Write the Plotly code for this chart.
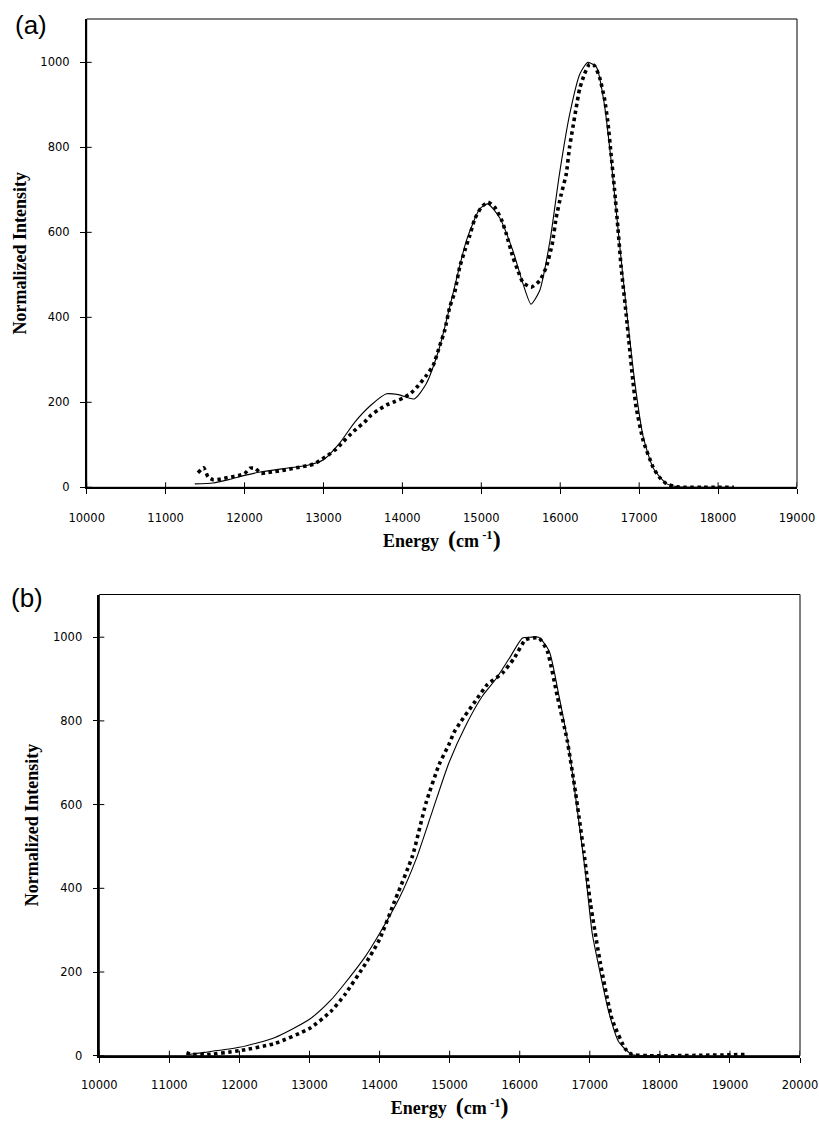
import plotly.graph_objects as go

# ---------------- Panel (a) data ----------------
a_calc_x = [11370, 11600, 11800, 12000, 12200, 12500, 12800, 13000, 13200, 13400,
            13600, 13800, 13950, 14150, 14300, 14470, 14640, 14810, 14980, 15080,
            15230, 15400, 15530, 15630, 15740, 15870, 15990, 16120, 16250, 16350,
            16460, 16560, 16650, 16750, 16850, 16950, 17050, 17180, 17350, 17500,
            17700, 18200]
a_calc_y = [8, 10, 18, 28, 36, 44, 52, 65, 103, 154,
            193, 220, 218, 208, 243, 329, 455, 580, 655, 667,
            635, 557, 478, 431, 463, 580, 737, 878, 973, 1000,
            988, 900, 760, 575, 400, 240, 120, 45, 8, 1,
            0, 0]

a_exp_x = [11410, 11483, 11538, 11600, 11680, 11760, 11850, 11930, 12000, 12070,
           12130, 12210, 12300, 12380, 12460, 12550, 12630, 12720, 12800, 12886,
           12970, 13054, 13160, 13245, 13329, 13414, 13519, 13603, 13696, 13801,
           13907, 14013, 14110, 14200, 14304, 14389, 14473, 14536, 14600, 14663,
           14726, 14790, 14853, 14916, 15000, 15085, 15169, 15253, 15317, 15401,
           15464, 15527, 15633, 15739, 15823, 15899, 15949, 16013, 16076, 16118,
           16160, 16203, 16245, 16308, 16371, 16435, 16498, 16561, 16603, 16646,
           16688, 16730, 16772, 16835, 16878, 16920, 16962, 17051, 17177, 17250,
           17346, 17473, 17600, 17800, 18000, 18200]
a_exp_y = [34, 46, 24, 18, 19, 22, 25, 28, 32, 45,
           45, 33, 35, 37, 39, 42, 45, 48, 51, 55,
           65, 75, 90, 106, 122, 137, 153, 170, 182, 194,
           202, 210, 222, 239, 263, 286, 333, 369, 424, 459,
           518, 557, 592, 631, 659, 671, 659, 631, 596, 541,
           510, 482, 471, 486, 518, 573, 635, 690, 737, 800,
           847, 894, 937, 973, 996, 992, 965, 914, 860, 780,
           700, 612, 518, 408, 329, 251, 188, 110, 47, 25,
           8, 1, 0, 0, 0, 0]

# ---------------- Panel (b) data ----------------
b_calc_x = [11270, 11500, 12000, 12500, 13000, 13300, 13500, 13800, 14000, 14280,
            14520, 14755, 14990, 15230, 15470, 15660, 15850, 16040, 16150, 16270,
            16420, 16560, 16700, 16845, 16940, 17035, 17130, 17270, 17410, 17600,
            17800, 18000]
b_calc_y = [3, 8, 20, 43, 87, 132, 172, 238, 292, 376,
            469, 585, 700, 789, 860, 900, 949, 998, 1000, 1000,
            967, 860, 736, 558, 434, 292, 212, 105, 34, 3,
            0, 0]

b_exp_x = [11244, 11300, 11500, 12000, 12500, 13000, 13300, 13500, 13800, 14000,
           14200, 14471, 14661, 14850, 14993, 15060, 15159, 15349, 15538, 15752,
           15918, 16084, 16274, 16393, 16535, 16677, 16796, 16915, 17010, 17152,
           17318, 17508, 17603, 17840, 18200, 18600, 19000, 19217]
b_exp_y = [7, 4, 2, 12, 29, 65, 105, 145, 220, 278,
           363, 478, 603, 696, 745, 772, 798, 843, 887, 914,
           949, 994, 998, 967, 860, 754, 629, 487, 363, 220,
           87, 16, 3, 0, 0, 1, 2, 3]

# ---------------- axes / labels ----------------
a_xrange = [10000, 19000]
b_xrange = [10000, 20000]
y_range = [0, 1102]
a_xticks = [10000, 11000, 12000, 13000, 14000, 15000, 16000, 17000, 18000, 19000]
b_xticks = [10000, 11000, 12000, 13000, 14000, 15000, 16000, 17000, 18000, 19000, 20000]
y_ticks = [0, 200, 400, 600, 800, 1000]

y_title = "Normalized Intensity"
x_title = ("Energy  <span style='font-size:24px'>(</span>cm<sup> -1</sup>"
           "<span style='font-size:24px'>)</span>")
panel_labels = ["(a)", "(b)"]

W, H = 819, 1122
def px_x(p):
    return p / W
def px_y(p):
    return 1 - p / H

dom_a_x = [px_x(86.7), px_x(797)]
dom_a_y = [px_y(487.3), px_y(19)]
dom_b_x = [px_x(99.3), px_x(800)]
dom_b_y = [px_y(1055.7), px_y(594.5)]

tick_font = dict(family="DejaVu Sans, sans-serif", size=11.5, color="black")
title_font = dict(family="Liberation Serif, Times New Roman, serif", size=18, color="black")
bold = lambda s: "<b>" + s + "</b>"

fig = go.Figure()

calc_line = dict(color="black", width=1.1, shape="spline", smoothing=0.6)
exp_line = dict(color="black", width=3.6, dash="3.5px,3.5px", shape="spline", smoothing=0.5)

fig.add_trace(go.Scatter(x=a_calc_x, y=a_calc_y, mode="lines", line=calc_line,
                         xaxis="x", yaxis="y", showlegend=False))
fig.add_trace(go.Scatter(x=a_exp_x, y=a_exp_y, mode="lines", line=exp_line,
                         xaxis="x", yaxis="y", showlegend=False))
fig.add_trace(go.Scatter(x=b_calc_x, y=b_calc_y, mode="lines", line=calc_line,
                         xaxis="x2", yaxis="y2", showlegend=False))
fig.add_trace(go.Scatter(x=b_exp_x, y=b_exp_y, mode="lines", line=exp_line,
                         xaxis="x2", yaxis="y2", showlegend=False))

def xaxis_main(dom, rng, ticks, anchor, standoff, tstand):
    return dict(domain=dom, range=rng, anchor=anchor, tickmode="array", tickvals=ticks,
                ticktext=[str(v) for v in ticks],
                ticks="outside", ticklen=5, tickwidth=1, tickcolor="black",
                showline=True, linecolor="black", linewidth=2,
                showgrid=False, zeroline=False, tickfont=tick_font,
                ticklabelstandoff=standoff, automargin=False,
                title=dict(text=bold(x_title), font=title_font, standoff=tstand))

def yaxis_main(dom, anchor, tstand):
    return dict(domain=dom, range=y_range, anchor=anchor, tickmode="array", tickvals=y_ticks,
                ticktext=[str(v) for v in y_ticks],
                ticks="outside", ticklen=5, tickwidth=1, tickcolor="black",
                showline=True, linecolor="black", linewidth=1.5,
                showgrid=False, zeroline=False, tickfont=tick_font,
                ticklabelstandoff=8, automargin=False,
                title=dict(text=bold(y_title), font=title_font, standoff=tstand))

# inner halves of the crossing tick marks, placed from the tick lists through the axes
def inner_ticks(xref, yref, xticks, dom_x, dom_y):
    shapes = []
    fx = 5 / ((dom_x[1] - dom_x[0]) * W)
    fy = 5 / ((dom_y[1] - dom_y[0]) * H)
    for v in xticks:
        shapes.append(dict(type="line", xref=xref, yref=yref + " domain", x0=v, x1=v, y0=0, y1=fy,
                           line=dict(color="black", width=1)))
    for v in y_ticks:
        shapes.append(dict(type="line", xref=xref + " domain", yref=yref, x0=0, x1=fx, y0=v, y1=v,
                           line=dict(color="black", width=1)))
    return shapes

frame = [
    dict(type="rect", xref="x domain", yref="y domain", x0=0, x1=1, y0=0, y1=1,
         line=dict(color="black", width=1)),
    dict(type="rect", xref="x2 domain", yref="y2 domain", x0=0, x1=1, y0=0, y1=1,
         line=dict(color="black", width=1)),
]

label_font = dict(family="Liberation Sans, Arial, sans-serif", size=26, color="black")

fig.update_layout(
    width=W, height=H,
    margin=dict(l=0, r=0, t=0, b=0),
    paper_bgcolor="white", plot_bgcolor="white",
    xaxis=xaxis_main(dom_a_x, a_xrange, a_xticks, "y", 14, 10),
    yaxis=yaxis_main(dom_a_y, "x", 9),
    xaxis2=xaxis_main(dom_b_x, b_xrange, b_xticks, "y2", 12, 11),
    yaxis2=yaxis_main(dom_b_y, "x2", 10),
    shapes=frame + inner_ticks("x", "y", a_xticks, dom_a_x, dom_a_y)
                 + inner_ticks("x2", "y2", b_xticks, dom_b_x, dom_b_y),
    annotations=[
        dict(text=panel_labels[0], xref="paper", yref="paper", x=px_x(31), y=px_y(25),
             showarrow=False, font=label_font, xanchor="center", yanchor="middle"),
        dict(text=panel_labels[1], xref="paper", yref="paper", x=px_x(27), y=px_y(598),
             showarrow=False, font=label_font, xanchor="center", yanchor="middle"),
    ],
)

fig.write_html("out.html")
